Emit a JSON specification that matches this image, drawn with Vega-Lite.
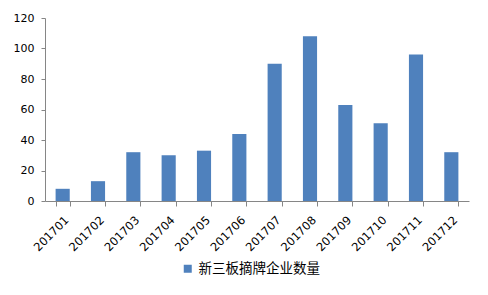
{
  "$schema": "https://vega.github.io/schema/vega-lite/v6.json",
  "width": 424,
  "height": 183,
  "autosize": {"type": "none"},
  "padding": {"left": 45, "top": 18, "right": 19, "bottom": 94},
  "background": "white",
  "data": {
    "values": [
      {"month": "201701", "count": 8},
      {"month": "201702", "count": 13},
      {"month": "201703", "count": 32},
      {"month": "201704", "count": 30},
      {"month": "201705", "count": 33},
      {"month": "201706", "count": 44},
      {"month": "201707", "count": 90},
      {"month": "201708", "count": 108},
      {"month": "201709", "count": 63},
      {"month": "201710", "count": 51},
      {"month": "201711", "count": 96},
      {"month": "201712", "count": 32}
    ]
  },
  "mark": {"type": "bar"},
  "encoding": {
    "x": {
      "field": "month",
      "type": "nominal",
      "sort": null,
      "scale": {"paddingInner": 0.6, "paddingOuter": 0.3},
      "axis": {
        "title": null,
        "labelAngle": -45,
        "labelFont": "DejaVu Sans",
        "labelFontSize": 11.5,
        "labelColor": "#000000",
        "labelPadding": 8,
        "tickBand": "extent",
        "tickSize": 5,
        "tickColor": "#868686",
        "domainColor": "#868686",
        "grid": false
      }
    },
    "y": {
      "field": "count",
      "type": "quantitative",
      "scale": {"domain": [0, 120], "nice": false},
      "axis": {
        "title": null,
        "values": [0, 20, 40, 60, 80, 100, 120],
        "labelFont": "DejaVu Sans",
        "labelFontSize": 11,
        "labelColor": "#000000",
        "labelPadding": 7,
        "tickSize": 4,
        "tickColor": "#868686",
        "domainColor": "#868686",
        "grid": false
      }
    },
    "color": {
      "datum": "新三板摘牌企业数量",
      "scale": {"range": ["#4F81BD"]},
      "legend": {
        "title": null,
        "orient": "none",
        "legendX": 136,
        "legendY": 244,
        "padding": 0,
        "symbolType": "square",
        "symbolSize": 64,
        "symbolStrokeWidth": 0,
        "labelFont": "Noto Sans CJK SC",
        "labelFontSize": 13.5,
        "labelColor": "#000000",
        "labelOffset": 4
      }
    }
  },
  "config": {
    "view": {"stroke": null}
  }
}
